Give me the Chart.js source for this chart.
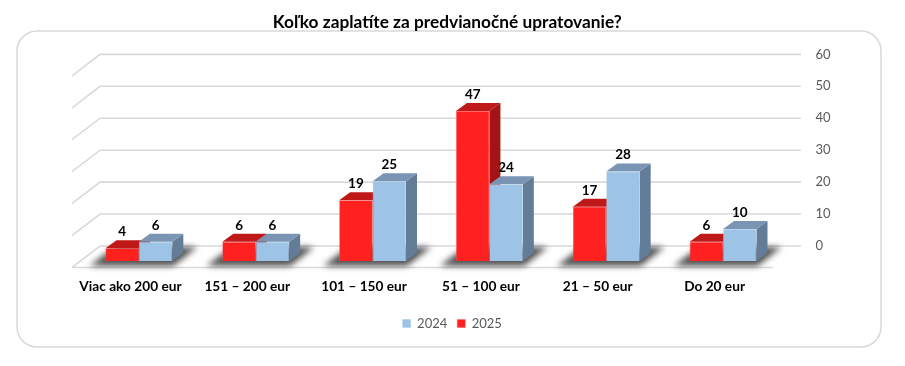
<!DOCTYPE html>
<html>
<head>
<meta charset="utf-8">
<style>
  html, body { margin: 0; padding: 0; background: #fff; }
  canvas { display: block; }
</style>
<script src="https://cdn.jsdelivr.net/npm/chart.js@4"></script>
</head>
<body>
<canvas id="chart" width="905" height="366"></canvas>
<script>
const categories = ['Viac ako 200 eur', '151 – 200 eur', '101 – 150 eur', '51 – 100 eur', '21 – 50 eur', 'Do 20 eur']
const values2025 = [4, 6, 19, 47, 17, 6]
const values2024 = [6, 6, 25, 24, 28, 10]
const yTicks = [0, 10, 20, 30, 40, 50, 60]

//the bars stand in the middle of the floor, walls are offset from that plane
const back = { dx: 19.5, dy: -15 }
const front = { dx: -8.5, dy: 6.5 }
const barDepth = { dx: 11, dy: -8 }

const red = { front: '#FF2020', edge: '#FF6A6A', top: '#BE1818', side: '#A51414' }
const blue = { front: '#9DC3E6', edge: '#B4D2EC', top: '#7A95B4', side: '#637C98' }
const gridColor = '#D9D9D9'

function poly(ctx, pts, color) {
    ctx.fillStyle = color
    ctx.beginPath()
    pts.forEach((p, i) => i ? ctx.lineTo(p[0], p[1]) : ctx.moveTo(p[0], p[1]))
    ctx.closePath()
    ctx.fill()
}

function barBox(bar) {
    const w = bar.width / 2
    return { l: bar.x - w, r: bar.x + w, t: bar.y, b: bar.base }
}

const scene = {
    id: 'scene',
    afterLayout(chart) {
        //left padding pushes title and legend off centre, move them back
        chart.titleBlock.left -= 45.5
        chart.titleBlock.right -= 45.5
        chart.legend.left -= 40.5
        chart.legend.right -= 40.5
    },
    beforeDraw(chart) {
        const ctx = chart.ctx
        ctx.save()
        ctx.strokeStyle = gridColor
        ctx.lineWidth = 1.5
        ctx.beginPath()
        ctx.roundRect(17, 31, 864, 316, 20)
        ctx.stroke()
        ctx.restore()
    },
    beforeDatasetsDraw(chart) {
        const ctx = chart.ctx
        const { x, y } = chart.scales
        ctx.save()

        //walls
        ctx.strokeStyle = gridColor
        ctx.lineWidth = 1.6
        yTicks.forEach(v => {
            const py = y.getPixelForValue(v)
            ctx.beginPath()
            ctx.moveTo(x.left + front.dx, py + front.dy)
            ctx.lineTo(x.left + back.dx, py + back.dy)
            ctx.lineTo(x.right + back.dx, py + back.dy)
            ctx.stroke()
        })
        const y0 = y.getPixelForValue(0)
        ctx.beginPath()
        ctx.moveTo(x.left + front.dx, y0 + front.dy)
        ctx.lineTo(x.right + front.dx, y0 + front.dy)
        ctx.stroke()

        //floor shadows
        const redBars = chart.getDatasetMeta(0).data
        const blueBars = chart.getDatasetMeta(1).data
        ctx.save()
        ctx.filter = 'blur(3px)'
        redBars.forEach((bar, i) => {
            const l = barBox(bar).l
            const r = barBox(blueBars[i]).r
            poly(ctx, [[l - 16, y0 + 5], [r + 1, y0 + 5], [r + 25, y0 - 14], [l + 9, y0 - 14]], '#505050')
        })
        ctx.restore()

        //top and side of the boxes, the fronts are the normal chart.js bars
        const faces = (bars, c) => bars.forEach(bar => {
            const { l, r, t, b } = barBox(bar)
            const d = barDepth
            poly(ctx, [[r, t], [r + d.dx, t + d.dy], [r + d.dx, b + d.dy], [r, b]], c.side)
            poly(ctx, [[l, t], [l + d.dx, t + d.dy], [r + d.dx, t + d.dy], [r, t]], c.top)
        })
        faces(redBars, red)
        faces(blueBars, blue)
        ctx.restore()
    },
    afterDatasetsDraw(chart) {
        const ctx = chart.ctx
        ctx.save()
        ctx.font = 'bold 13.5px Lato'
        ctx.fillStyle = '#000'
        ctx.textAlign = 'center'
        ctx.textBaseline = 'middle'
        chart.data.datasets.forEach((ds, k) => {
            chart.getDatasetMeta(k).data.forEach((bar, i) => {
                ctx.fillText(ds.data[i], bar.x, bar.y - 16.5)
            })
        })
        ctx.restore()
    }
}

new Chart(document.querySelector('#chart').getContext('2d'), {
    type: 'bar',
    plugins: [scene],
    data: {
        labels: categories,
        datasets: [
            { label: '2025', data: values2025, backgroundColor: red.front, borderColor: red.edge, borderWidth: 0.6 },
            { label: '2024', data: values2024, backgroundColor: blue.front, borderColor: blue.edge, borderWidth: 0.6 }
        ]
    },
    options: {
        responsive: false,
        animation: false,
        layout: { padding: { left: 80.5, bottom: 26 } },
        datasets: { bar: { categoryPercentage: 0.572, barPercentage: 1 } },
        scales: {
            x: {
                afterFit(scale) { scale.height = 46 },
                grid: { display: false },
                border: { display: false },
                ticks: {
                    color: '#000',
                    font: { family: 'Lato', size: 13.7, weight: 'bold' },
                    padding: 9,
                    labelOffset: -8.5,
                    maxRotation: 0,
                    autoSkip: false
                }
            },
            y: {
                position: 'right',
                min: 0,
                max: 60,
                afterFit(scale) { scale.width = 123.5 },
                afterBuildTicks(scale) { scale.ticks = yTicks.map(v => ({ value: v })) },
                grid: { display: false },
                border: { display: false },
                ticks: {
                    color: '#595959',
                    font: { family: 'Lato', size: 13 },
                    padding: 26,
                    labelOffset: -15
                }
            }
        },
        plugins: {
            title: {
                display: true,
                text: 'Koľko zaplatíte za predvianočné upratovanie?',
                color: '#000',
                font: { family: 'Lato', size: 17.3, weight: 'bold' },
                padding: { top: 12, bottom: 36.6 }
            },
            legend: {
                position: 'bottom',
                reverse: true,
                labels: {
                    boxWidth: 8,
                    boxHeight: 8,
                    color: '#595959',
                    font: { family: 'Lato', size: 13 },
                    padding: 10
                }
            },
            tooltip: { enabled: false }
        }
    }
})
</script>
</body>
</html>
